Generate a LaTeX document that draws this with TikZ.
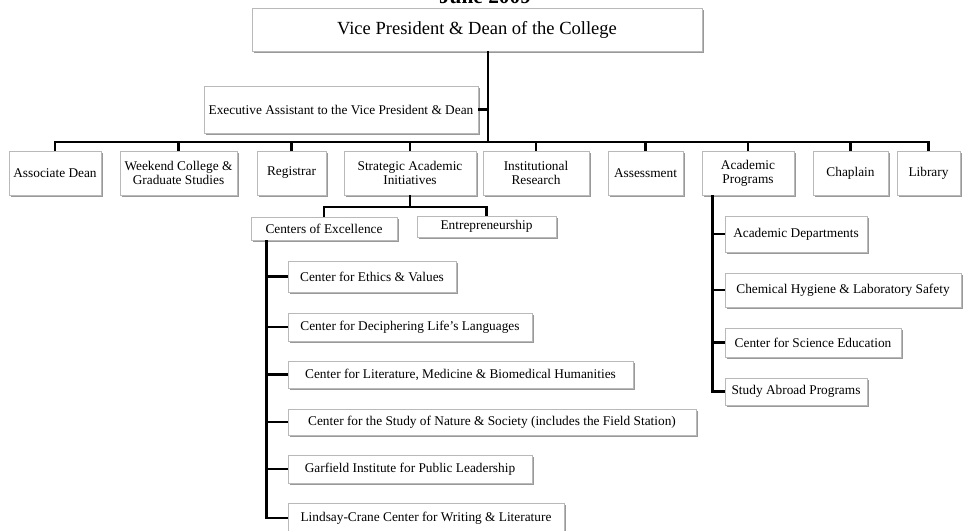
\documentclass[tikz,border=0pt]{standalone}
\usepackage{fontspec}
\setmainfont{Liberation Serif}
\usetikzlibrary{shadows}

\tikzset{
  box/.style={draw=gray!55, line width=0.6pt, fill=white, align=center,
    inner sep=0pt, font=\fontsize{10}{10.5}\selectfont,
    drop shadow={shadow xshift=1.2pt, shadow yshift=-1.5pt, opacity=0.4, fill=black}},
  wh/.style 2 args={minimum width=#1pt, minimum height=#2pt},
  link/.style={line width=2.1pt}
}

\begin{document}
\begin{tikzpicture}[x=0.75pt,y=-0.75pt]
  \useasboundingbox (0,0) rectangle (964,531);
  % heading, mostly cut off at the top edge
  \node[anchor=base, font=\bfseries\fontsize{16}{16}\selectfont] (date) at (485,3.5) {June 2009};
  % top of the chart
  \node[box, wh={337.5}{32.25}, font=\fontsize{13.9}{14}\selectfont] (vp) at (477,29.5)
    {Vice President \& Dean of the College};
  \node[box, wh={205.5}{35.25}] (exec) at (341,109.5)
    {Executive Assistant to the Vice President \& Dean};
  % second level
  \node[box, wh={69}{33}]    (assoc)     at (55,173)    {Associate Dean};
  \node[box, wh={87.75}{33}] (weekend)   at (178.5,173) {Weekend College \&\\Graduate Studies};
  \node[box, wh={51.75}{33}] (registrar) at (291.5,173) {Registrar};
  \node[box, wh={99}{33}]    (strategic) at (410,173)   {Strategic Academic\\Initiatives};
  \node[box, wh={79.5}{33}]  (instres)   at (536,173)   {Institutional\\Research};
  \node[box, wh={56.25}{33}] (assess)    at (645.5,173) {Assessment};
  \node[box, wh={69}{33}]    (acprog)    at (748,173)   {Academic\\Programs};
  \node[box, wh={56.25}{33}] (chaplain)  at (850.5,173) {Chaplain};
  \node[box, wh={47.25}{33}] (library)   at (928.5,173) {Library};
  % strategic academic initiatives
  \node[box, wh={109.5}{17.25}] (coe)   at (324,228.5)   {Centers of Excellence};
  \node[box, wh={104.25}{15.75}] (entre) at (486.5,226.5) {Entrepreneurship};
  % centers of excellence
  \node[box, wh={126}{23.25}]   (ethics)   at (372,276.5) {Center for Ethics \& Values};
  \node[box, wh={183}{21}]      (decipher) at (410,327)   {Center for Deciphering Life’s Languages};
  \node[box, wh={258.75}{20.25}] (litmed)  at (460.5,374.5) {Center for Literature, Medicine \& Biomedical Humanities};
  \node[box, wh={306}{19.5}]    (nature)   at (492,422)   {Center for the Study of Nature \& Society (includes the Field Station)};
  \node[box, wh={183}{21}]      (garfield) at (410,469)   {Garfield Institute for Public Leadership};
  \node[box, wh={207}{22.5}]    (lindsay)  at (426,518)   {Lindsay-Crane Center for Writing \& Literature};
  % academic programs
  \node[box, wh={106.5}{27}]    (acdept)  at (796,234)   {Academic Departments};
  \node[box, wh={177}{25.5}]    (chemhyg) at (843,290)   {Chemical Hygiene \& Laboratory Safety};
  \node[box, wh={132}{21.75}]   (scied)   at (813,342.5) {Center for Science Education};
  \node[box, wh={106.5}{20.25}] (abroad)  at (796,391.5) {Study Abroad Programs};

  % connectors
  \coordinate (bus) at (488,142);
  \coordinate (sjoin) at (410,207);
  \coordinate (cspine) at ([xshift=12pt]coe.south west);
  \coordinate (aspine) at ([xshift=8pt]acprog.south west);
  \draw[link] (vp.south -| bus) -- (bus);
  \draw[link] (exec.east) -- (exec.east -| bus);
  \draw[link] (assoc.north) |- (bus) -| (library.north);
  \foreach \n in {weekend,registrar,strategic,instres,assess,acprog,chaplain}
    \draw[link] (\n.north) -- (\n.north |- bus);
  \draw[link] (strategic.south) -- (sjoin);
  \draw[link] (coe.north) |- (sjoin) -| (entre.north);
  \draw[link] (cspine) |- (lindsay.west);
  \foreach \n in {ethics,decipher,litmed,nature,garfield}
    \draw[link] (\n.west) -- (\n.west -| cspine);
  \draw[link] (aspine) |- (abroad.west);
  \foreach \n in {acdept,chemhyg,scied}
    \draw[link] (\n.west) -- (\n.west -| aspine);
\end{tikzpicture}
\end{document}
